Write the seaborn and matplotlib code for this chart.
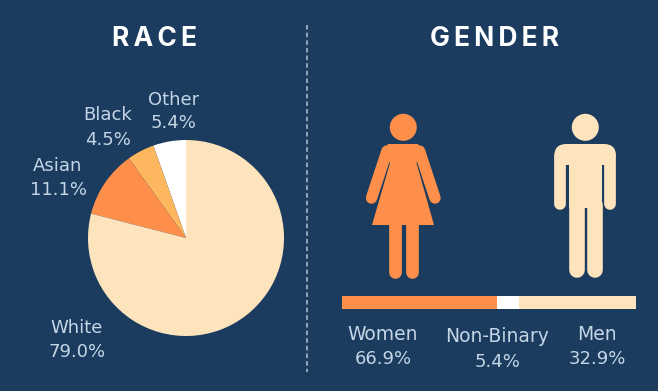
import matplotlib
matplotlib.use('Agg')
import matplotlib.pyplot as plt
import seaborn as sns
from matplotlib.patches import Circle, FancyBboxPatch, Polygon, Rectangle

race_labels = ['Other', 'Black', 'Asian', 'White']
race_values = [5.4, 4.5, 11.1, 79.0]

gender_labels = ['Women', 'Non-Binary', 'Men']
gender_values = [66.9, 5.4, 32.9]
# the bar segments are not drawn to the labelled percentages
gender_bar_widths = [52.7, 7.5, 39.8]

BG = '#1b3c5f'
ORANGE = '#fd8f4b'
AMBER = '#fdb85f'
CREAM = '#fee4bd'
WHITE = '#ffffff'
TEXT = '#c4d6e6'

sns.set_theme(style='white', rc={'figure.facecolor': BG, 'axes.facecolor': BG, 'savefig.facecolor': BG})
plt.rcParams['font.family'] = ['DejaVu Sans']

W, H = 658, 391
fig = plt.figure(figsize=(W / 100, H / 100), dpi=100)


def px_axes(left, top, right, bottom):
    return fig.add_axes([left / W, (H - bottom) / H, (right - left) / W, (bottom - top) / H])


# overlay in pixel coordinates for the titles, labels and figures
ax = px_axes(0, 0, W, H)
ax.set_xlim(0, W)
ax.set_ylim(H, 0)
ax.axis('off')

title_font = ['Inter', 'DejaVu Sans']
ax.text(154.5, 39, 'R\u2009A\u2009C\u2009E', color=WHITE, fontsize=19, fontweight='bold', ha='center', va='center', family=title_font)
ax.text(494.5, 39, 'G\u2009E\u2009N\u2009D\u2009E\u2009R', color=WHITE, fontsize=19, fontweight='bold', ha='center', va='center', family=title_font)
ax.plot([307, 307], [25, 372], color='#b4c4d1', lw=1.1, ls=(0, (3, 2)))

# pie
pie_ax = px_axes(88, 140, 284, 336)
pie_ax.pie(race_values, colors=[WHITE, AMBER, ORANGE, CREAM], startangle=90, radius=1,
           wedgeprops={'linewidth': 0})
pie_ax.set_xlim(-1, 1)
pie_ax.set_ylim(-1, 1)

race_pos = [(174, 100, 123), (108, 115, 140), (58, 166, 190), (77, 328, 352)]
for name, val, (x, y1, y2) in zip(race_labels, race_values, race_pos):
    ax.text(x, y1, name, color=TEXT, fontsize=13, ha='center', va='center')
    ax.text(x, y2, f'{val:.1f}%', color=TEXT, fontsize=13, ha='center', va='center')

# stacked gender bar
bar_ax = px_axes(342, 296, 636, 309)
left = 0
for width, color in zip(gender_bar_widths, [ORANGE, WHITE, CREAM]):
    sns.barplot(x=[width], y=[0], orient='h', left=left, color=color, saturation=1, width=1,
                linewidth=0, ax=bar_ax)
    left += width
bar_ax.set_xlim(0, 100)
bar_ax.set_ylim(0.5, -0.5)
bar_ax.axis('off')

gender_pos = [(383, 334, 359), (497, 337, 362), (597, 334, 359)]
for name, val, (x, y1, y2) in zip(gender_labels, gender_values, gender_pos):
    ax.text(x, y1, name, color=TEXT, fontsize=13.5, ha='center', va='center')
    ax.text(x, y2, f'{val:.1f}%', color=TEXT, fontsize=13, ha='center', va='center')


def limb(x, y, width, color):
    ax.plot(x, y, color=color, lw=width * 72 / 100, solid_capstyle='round')


# woman
ax.add_patch(Circle((403.3, 127.3), 13.5, color=ORANGE, lw=0))
ax.add_patch(Polygon([(388, 144), (418, 144), (421, 150), (416.5, 163), (434, 225), (372, 225), (390, 163), (385, 150)],
                     color=ORANGE, lw=0))
limb([387, 371.5], [151, 198], 11.4, ORANGE)
limb([419.5, 435], [151, 198], 11.4, ORANGE)
limb([395.3, 395.3], [225, 272], 12.7, ORANGE)
limb([412, 412], [225, 272], 12.7, ORANGE)

# man
ax.add_patch(Circle((585.3, 127.3), 13.5, color=CREAM, lw=0))
ax.add_patch(FancyBboxPatch((554.3, 144), 61.7, 21, boxstyle='round,pad=0,rounding_size=12', color=CREAM, lw=0))
ax.add_patch(Rectangle((566, 156), 38.5, 9, color=CREAM, lw=0))
limb([560.1, 560.1], [156, 203.5], 11.7, CREAM)
limb([610.2, 610.2], [156, 203.5], 11.7, CREAM)
ax.add_patch(Rectangle((568.7, 150), 33.6, 58, color=CREAM, lw=0))
limb([576.5, 576.5], [205, 270], 15.6, CREAM)
limb([594.6, 594.6], [205, 270], 15.6, CREAM)

fig.savefig('out.png', dpi=100)
